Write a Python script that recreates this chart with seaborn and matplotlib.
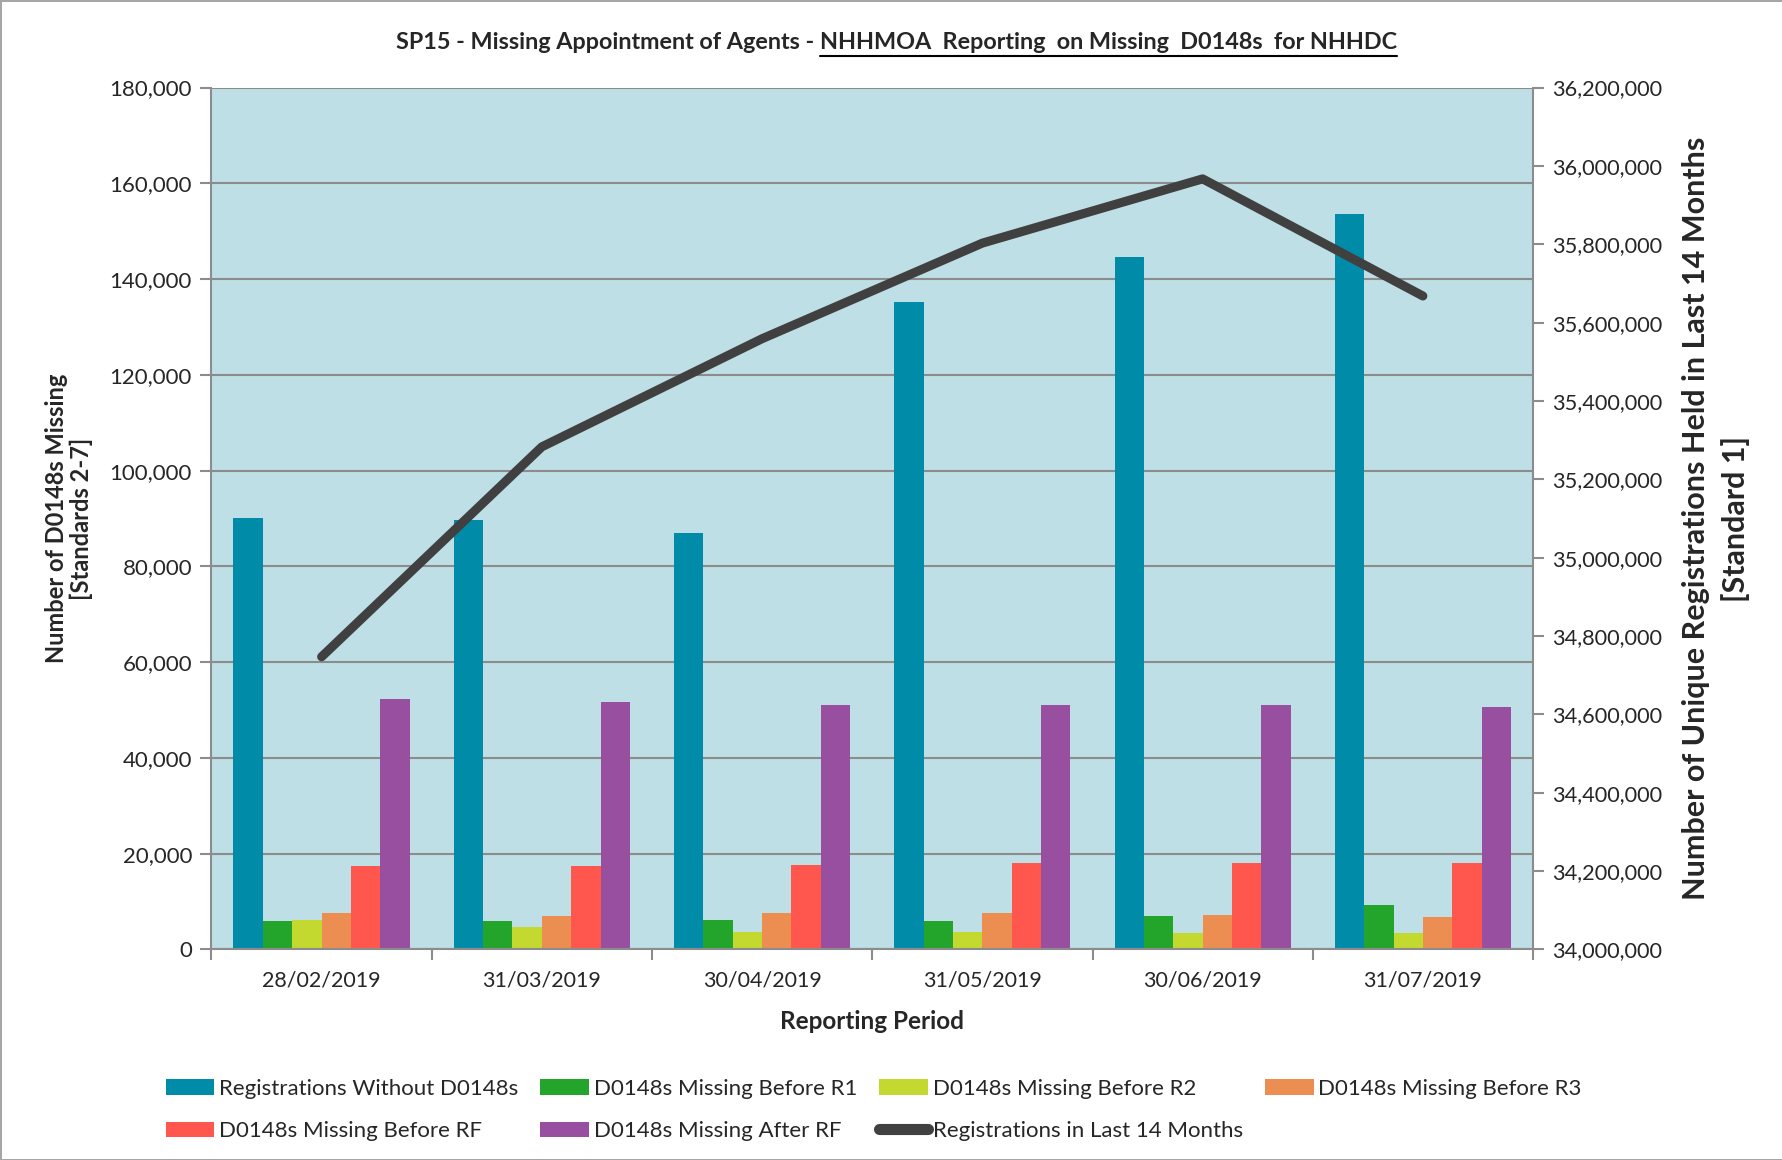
import numpy as np
import pandas as pd
import matplotlib
matplotlib.use("Agg")
import matplotlib.pyplot as plt
import matplotlib.ticker as mticker
from matplotlib.lines import Line2D
import seaborn as sns

# Données
periods = ["28/02/2019", "31/03/2019", "30/04/2019", "31/05/2019", "30/06/2019", "31/07/2019"]
without_d0148 = [90200, 89700, 86900, 135200, 144600, 153700]
missing_r1 = [5850, 5850, 6250, 5850, 7000, 9200]
missing_r2 = [6100, 4600, 3700, 3700, 3350, 3350]
missing_r3 = [7650, 7000, 7650, 7650, 7300, 6750]
missing_rf = [17350, 17350, 17700, 18000, 18000, 18000]
missing_after_rf = [52400, 51600, 51000, 51000, 51000, 50600]
registrations_14m = [34747000, 35283000, 35559000, 35803000, 35967000, 35668000]

series_names = ["Registrations Without D0148s", "D0148s Missing Before R1",
                "D0148s Missing Before R2", "D0148s Missing Before R3",
                "D0148s Missing Before RF", "D0148s Missing After RF"]
series_values = [without_d0148, missing_r1, missing_r2, missing_r3, missing_rf, missing_after_rf]
line_name = "Registrations in Last 14 Months"

colors = ["#008CA8", "#23A42B", "#C3D92F", "#EC8E51", "#FF574D", "#994F9F"]
line_color = "#404040"

df = pd.DataFrame({
    "Period": np.tile(periods, len(series_names)),
    "Serie": np.repeat(series_names, len(periods)),
    "Value": np.concatenate(series_values),
})

sns.set_style("white")
plt.rcParams["font.family"] = ["Lato", "DejaVu Sans"]

fig = plt.figure(figsize=(17.83, 11.6), dpi=100)
fig.patch.set_edgecolor("#a6a6a6")
fig.patch.set_linewidth(2)
ax = fig.add_axes([0.1186, 0.1815, 0.7412, 0.743])
ax.set_facecolor("#BEDFE5")

sns.barplot(data=df, x="Period", y="Value", hue="Serie", order=periods,
            hue_order=series_names, palette=colors, width=0.8, gap=0,
            linewidth=0, saturation=1, ax=ax, zorder=2)
handles, labels = ax.get_legend_handles_labels()
ax.get_legend().remove()

ax.set_ylim(0, 180000)
ax.set_xlim(-0.5, len(periods) - 0.5)
ax.yaxis.set_major_locator(mticker.MultipleLocator(20000))
ax.yaxis.set_major_formatter(mticker.StrMethodFormatter("{x:,.0f}"))
ax.grid(axis="y", color="#8c8c8c", linewidth=1.5, zorder=0)
ax.set_axisbelow(True)

# ticks de catégories style Excel
ax.set_xticks(np.arange(len(periods) + 1) - 0.5)
ax.set_xticklabels([])
ax.set_xticks(np.arange(len(periods)), minor=True)
ax.set_xticklabels(periods, minor=True)
ax.tick_params(axis="x", which="major", length=8, width=1.5, color="#8c8c8c", direction="out")
ax.tick_params(axis="x", which="minor", length=0, pad=15, labelsize=15.5)
ax.tick_params(axis="y", length=8, width=1.5, color="#8c8c8c", direction="out", labelsize=16, pad=6)
ax.yaxis.set_ticks_position("left")
ax.xaxis.set_ticks_position("bottom")
for side in ["left", "bottom"]:
    ax.spines[side].set_color("#8c8c8c")
    ax.spines[side].set_linewidth(1.5)
for side in ["top", "right"]:
    ax.spines[side].set_visible(False)

ax.set_xlabel("Reporting Period", fontsize=17.5, fontweight="bold", labelpad=14)
ax.set_ylabel("Number of D0148s Missing\n[Standards 2-7]", fontsize=17, fontweight="bold",
              labelpad=12, linespacing=1.1)

# axe secondaire
ax2 = ax.twinx()
sns.lineplot(x=np.arange(len(periods)), y=registrations_14m, ax=ax2, color=line_color,
             linewidth=6.5, solid_capstyle="round", solid_joinstyle="round", zorder=3)
ax2.set_ylim(34000000, 36200000)
ax2.yaxis.set_major_locator(mticker.MultipleLocator(200000))
ax2.yaxis.set_major_formatter(mticker.StrMethodFormatter("{x:,.0f}"))
ax2.tick_params(axis="y", length=8, width=1.5, color="#8c8c8c", direction="out", labelsize=15.7, pad=6)
ax2.yaxis.set_ticks_position("right")
for side in ["left", "top", "bottom"]:
    ax2.spines[side].set_visible(False)
ax2.spines["right"].set_color("#8c8c8c")
ax2.spines["right"].set_linewidth(1.5)
ax2.set_ylabel("Number of Unique Registrations Held in Last 14 Months\n[Standard 1]",
               fontsize=22, fontweight="bold", labelpad=14, linespacing=1.45)
ax2.grid(False)

# titre avec partie soulignée
t1 = fig.text(0.0, 0.0, "SP15 - Missing Appointment of Agents - ", fontsize=16.8, fontweight="bold")
t2 = fig.text(0.0, 0.0, "NHHMOA  Reporting  on Missing  D0148s  for NHHDC", fontsize=16.8, fontweight="bold")
fig.canvas.draw()
r = fig.canvas.get_renderer()
w1 = t1.get_window_extent(r).width / fig.bbox.width
w2 = t2.get_window_extent(r).width / fig.bbox.width
x0 = 0.503 - (w1 + w2) / 2
y0 = 0.958
t1.set_position((x0, y0))
t2.set_position((x0 + w1, y0))
fig.add_artist(Line2D([x0 + w1, x0 + w1 + w2], [y0 - 0.006, y0 - 0.006],
                      transform=fig.transFigure, color="black", linewidth=1.5))

# légende en bas
line_handle = Line2D([], [], color=line_color, linewidth=8, solid_capstyle="round")
all_h = handles + [line_handle]
all_l = labels + [line_name]
order = [0, 4, 1, 5, 2, 6, 3]
fig.legend([all_h[i] for i in order], [all_l[i] for i in order], ncol=4,
           loc="center", bbox_to_anchor=(0.49, 0.043), frameon=False, fontsize=16,
           handlelength=2.2, handleheight=0.7, handletextpad=0.2, columnspacing=1.0,
           labelspacing=1.0)

fig.savefig("out.png", dpi=100, edgecolor=fig.get_edgecolor())
